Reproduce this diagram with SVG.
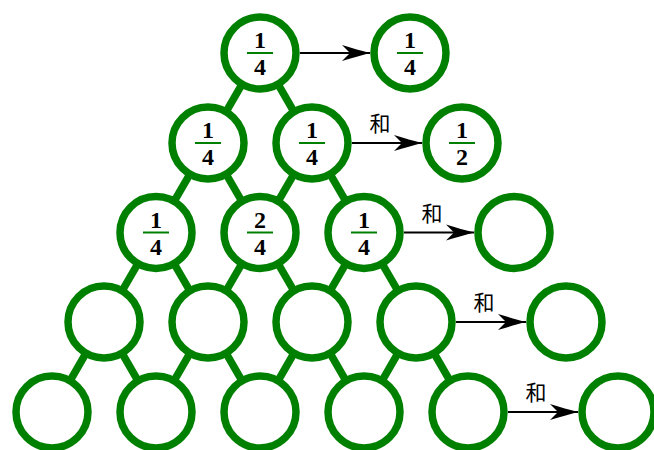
<svg xmlns="http://www.w3.org/2000/svg" width="654" height="450" viewBox="0 0 654 450">
<style>
.edge{stroke:#008000;stroke-width:7.5;fill:none}
.node{fill:#ffffff;stroke:#008000;stroke-width:7.5}
.num{font-family:"Liberation Serif","DejaVu Serif",serif;font-weight:bold;font-size:24px;text-anchor:middle;fill:#000}
.bar{stroke:#008000;stroke-width:2}
.arr{stroke:#000;stroke-width:2;fill:none}
.lab{font-family:"Noto Sans CJK SC","Noto Sans CJK JP",sans-serif;font-size:21px;text-anchor:middle;fill:#000}
</style>
<defs>
<marker id="ah" markerUnits="userSpaceOnUse" viewBox="-30 -10 31 20" markerWidth="31" markerHeight="20" refX="0" refY="0" orient="auto">
<path d="M0,0 C-8,-2 -18,-5 -28,-8 L-20,0 L-28,8 C-18,5 -8,2 0,0 Z" fill="#000"/>
</marker>
</defs>
<g id="connectors">
<path class="edge" d="M260,53 L208,143 M260,53 L312,143"/>
<path class="edge" d="M208,143 L156,232.5 M208,143 L260,232.5 M312,143 L260,232.5 M312,143 L364,232.5"/>
<path class="edge" d="M156,232.5 L104,322 M156,232.5 L208,322 M260,232.5 L208,322 M260,232.5 L312,322 M364,232.5 L312,322 M364,232.5 L416,322"/>
<path class="edge" d="M104,322 L52,412 M104,322 L156,412 M208,322 L156,412 M208,322 L260,412 M312,322 L260,412 M312,322 L364,412 M416,322 L364,412 M416,322 L468,412"/>
<line class="arr" x1="300" y1="53" x2="370" y2="53" marker-end="url(#ah)"/>
<line class="arr" x1="352" y1="143" x2="422" y2="143" marker-end="url(#ah)"/>
<line class="arr" x1="404" y1="232.5" x2="474" y2="232.5" marker-end="url(#ah)"/>
<line class="arr" x1="456" y1="322" x2="526" y2="322" marker-end="url(#ah)"/>
<line class="arr" x1="508" y1="412" x2="578" y2="412" marker-end="url(#ah)"/>
<text class="lab" x="380" y="131">和</text>
<text class="lab" x="432" y="220.5">和</text>
<text class="lab" x="484" y="310">和</text>
<text class="lab" x="536" y="400">和</text>
</g>
<g id="n00"><circle class="node" cx="260" cy="53" r="36"/><text class="num" x="260" y="48">1</text><line class="bar" x1="247" y1="53" x2="273" y2="53"/><text class="num" x="260" y="75">4</text></g>
<g id="s0"><circle class="node" cx="410" cy="53" r="36"/><text class="num" x="410" y="48">1</text><line class="bar" x1="397" y1="53" x2="423" y2="53"/><text class="num" x="410" y="75">4</text></g>
<g id="n10"><circle class="node" cx="208" cy="143" r="36"/><text class="num" x="208" y="138">1</text><line class="bar" x1="195" y1="143" x2="221" y2="143"/><text class="num" x="208" y="165">4</text></g>
<g id="n11"><circle class="node" cx="312" cy="143" r="36"/><text class="num" x="312" y="138">1</text><line class="bar" x1="299" y1="143" x2="325" y2="143"/><text class="num" x="312" y="165">4</text></g>
<g id="s1"><circle class="node" cx="462" cy="143" r="36"/><text class="num" x="462" y="138">1</text><line class="bar" x1="449" y1="143" x2="475" y2="143"/><text class="num" x="462" y="165">2</text></g>
<g id="n20"><circle class="node" cx="156" cy="232.5" r="36"/><text class="num" x="156" y="227.5">1</text><line class="bar" x1="143" y1="232.5" x2="169" y2="232.5"/><text class="num" x="156" y="254.5">4</text></g>
<g id="n21"><circle class="node" cx="260" cy="232.5" r="36"/><text class="num" x="260" y="227.5">2</text><line class="bar" x1="247" y1="232.5" x2="273" y2="232.5"/><text class="num" x="260" y="254.5">4</text></g>
<g id="n22"><circle class="node" cx="364" cy="232.5" r="36"/><text class="num" x="364" y="227.5">1</text><line class="bar" x1="351" y1="232.5" x2="377" y2="232.5"/><text class="num" x="364" y="254.5">4</text></g>
<g id="s2"><circle class="node" cx="514" cy="232.5" r="36"/></g>
<g id="n30"><circle class="node" cx="104" cy="322" r="36"/></g>
<g id="n31"><circle class="node" cx="208" cy="322" r="36"/></g>
<g id="n32"><circle class="node" cx="312" cy="322" r="36"/></g>
<g id="n33"><circle class="node" cx="416" cy="322" r="36"/></g>
<g id="s3"><circle class="node" cx="566" cy="322" r="36"/></g>
<g id="n40"><circle class="node" cx="52" cy="412" r="36"/></g>
<g id="n41"><circle class="node" cx="156" cy="412" r="36"/></g>
<g id="n42"><circle class="node" cx="260" cy="412" r="36"/></g>
<g id="n43"><circle class="node" cx="364" cy="412" r="36"/></g>
<g id="n44"><circle class="node" cx="468" cy="412" r="36"/></g>
<g id="s4"><circle class="node" cx="618" cy="412" r="36"/></g>
</svg>
